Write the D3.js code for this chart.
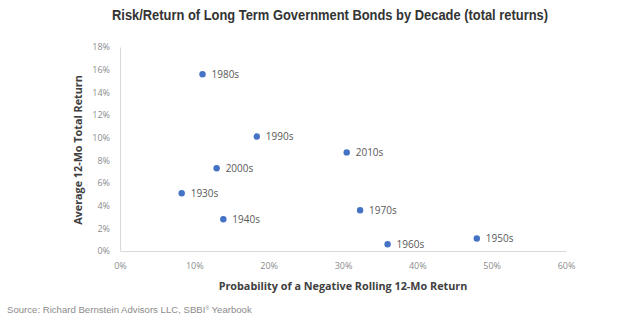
<!DOCTYPE html>
<html>
<head>
<meta charset="utf-8">
<script src="https://cdn.jsdelivr.net/npm/d3@7"></script>
<style>
  html, body { margin: 0; padding: 0; background: #fff; }
  svg { display: block; }
</style>
</head>
<body>
<div id="chart"></div>
<script>
// decades with probability of a negative rolling 12-mo return (x) and avg 12-mo total return (y)
const decades  = ["1930s", "1940s", "1950s", "1960s", "1970s", "1980s", "1990s", "2000s", "2010s"];
const negProb  = [0.083, 0.139, 0.480, 0.360, 0.323, 0.111, 0.184, 0.130, 0.305];
const avgRet   = [0.051, 0.028, 0.011, 0.006, 0.036, 0.156, 0.101, 0.073, 0.087];
const xTicks   = [0, 0.1, 0.2, 0.3, 0.4, 0.5, 0.6];
const yTicks   = [0, 0.02, 0.04, 0.06, 0.08, 0.10, 0.12, 0.14, 0.16, 0.18];

const width = 624, height = 325;
const margin = { left: 120, right: 58, top: 47, bottom: 74 };

const svg = d3.select("#chart").append("svg")
  .attr("width", width)
  .attr("height", height);

const x = d3.scaleLinear().domain([0, 0.6]).range([margin.left, width - margin.right]);
const y = d3.scaleLinear().domain([0, 0.18]).range([height - margin.bottom, margin.top]);
const pct = d3.format(".0%");

// axes
const xAxis = svg.append("g")
  .attr("transform", `translate(0,${y(0)})`)
  .call(d3.axisBottom(x).tickValues(xTicks).tickFormat(pct).tickSize(0).tickPadding(12));
const yAxis = svg.append("g")
  .attr("transform", `translate(${x(0)},0)`)
  .call(d3.axisLeft(y).tickValues(yTicks).tickFormat(pct).tickSize(0).tickPadding(10));

[xAxis, yAxis].forEach(a => {
  a.select(".domain").attr("stroke", "#d9d9d9").attr("stroke-width", 1);
  a.selectAll("text")
    .attr("fill", "#8c8c8c")
    .style("font-family", "'Open Sans', 'Liberation Sans', sans-serif")
    .style("font-size", "9px");
});

// points
svg.append("g").selectAll("circle")
  .data(decades)
  .join("circle")
  .attr("cx", (d, i) => x(negProb[i]))
  .attr("cy", (d, i) => y(avgRet[i]))
  .attr("r", 3.2)
  .attr("fill", "#4472c4");

svg.append("g").selectAll("text")
  .data(decades)
  .join("text")
  .attr("x", (d, i) => x(negProb[i]) + 9)
  .attr("y", (d, i) => y(avgRet[i]))
  .attr("dy", "0.35em")
  .attr("fill", "#595959")
  .style("font-family", "'Open Sans', 'Liberation Sans', sans-serif")
  .style("font-size", "10px")
  .text(d => d);

// title
svg.append("text")
  .attr("x", 330)
  .attr("y", 20)
  .attr("text-anchor", "middle")
  .attr("fill", "#333")
  .style("font-family", "'Liberation Sans Narrow', 'Arial Narrow', sans-serif")
  .style("font-weight", "bold")
  .style("font-size", "15px")
  .attr("textLength", 436)
  .attr("lengthAdjust", "spacingAndGlyphs")
  .text("Risk/Return of Long Term Government Bonds by Decade (total returns)");

// axis titles
svg.append("text")
  .attr("x", 343)
  .attr("y", 290)
  .attr("text-anchor", "middle")
  .attr("fill", "#404040")
  .style("font-family", "'Open Sans', 'Liberation Sans', sans-serif")
  .style("font-weight", "bold")
  .style("font-size", "10.8px")
  .text("Probability of a Negative Rolling 12-Mo Return");

svg.append("text")
  .attr("transform", "translate(82,150) rotate(-90)")
  .attr("text-anchor", "middle")
  .attr("fill", "#404040")
  .style("font-family", "'Open Sans', 'Liberation Sans', sans-serif")
  .style("font-weight", "bold")
  .style("font-size", "10.8px")
  .text("Average 12-Mo Total Return");

// source note
const src = svg.append("text")
  .attr("x", 7)
  .attr("y", 313)
  .attr("fill", "#8c8c8c")
  .style("font-family", "'Liberation Sans', Arial, sans-serif")
  .style("font-size", "9.6px");
src.append("tspan").text("Source: Richard Bernstein Advisors LLC, SBBI");
src.append("tspan").attr("dy", -3).style("font-size", "5px").text("®");
src.append("tspan").attr("dy", 3).text(" Yearbook");
</script>
</body>
</html>
